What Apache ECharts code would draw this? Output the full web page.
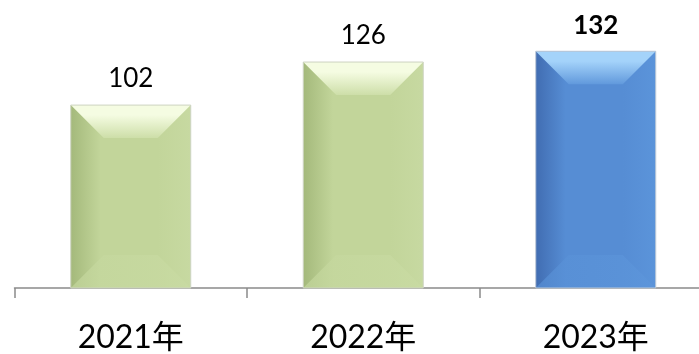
<!DOCTYPE html>
<html>
<head>
<meta charset="utf-8">
<script src="https://cdn.jsdelivr.net/npm/echarts@6/dist/echarts.min.js"></script>
<style>
html,body{margin:0;padding:0;background:#fff;}
#c{width:699px;height:354px;}
</style>
</head>
<body>
<div id="c"></div>
<script>
const categories = ['2021年', '2022年', '2023年'];
const values = [102, 126, 132];
const highlightIndex = 2;

const palettes = {
  green: {
    edgeL: '#a4b97b', mid: '#c2d59a', edgeR: '#c7d9a1',
    topA: '#f5fce2', topB: '#cddea8',
    botA: '#c4d79d', botB: '#c9dba3',
    border: '#cdd3c2'
  },
  blue: {
    edgeL: '#416db2', mid: '#568dd4', edgeR: '#5b94da',
    topA: '#a4d3fa', topB: '#6199dc',
    botA: '#5890d6', botB: '#5d96db',
    border: '#bcc8d6'
  }
};

const FONT = "Lato, 'Noto Sans CJK SC', sans-serif";

function renderItem(params, api) {
  const idx = api.value(0);
  const val = api.value(1);
  const top = api.coord([idx, val]);
  const base = api.coord([idx, 0]);
  const bw = api.size([1, 0])[0] * 0.516;
  const x0 = top[0] - bw / 2, x1 = top[0] + bw / 2;
  const y0 = top[1], yb = base[1];
  const b = 33;
  const f = b / bw;
  const p = idx === highlightIndex ? palettes.blue : palettes.green;
  const bodyGrad = new echarts.graphic.LinearGradient(0, 0, 1, 0, [
    {offset: 0, color: p.edgeL},
    {offset: f * 0.9, color: p.mid},
    {offset: 1 - f, color: p.mid},
    {offset: 1, color: p.edgeR}
  ]);
  const topGrad = new echarts.graphic.LinearGradient(0, 0, 0, 1, [
    {offset: 0, color: p.topA},
    {offset: 0.3, color: p.topA},
    {offset: 1, color: p.topB}
  ]);
  const botGrad = new echarts.graphic.LinearGradient(0, 0, 1, 0, [
    {offset: 0, color: p.botA}, {offset: 1, color: p.botB}
  ]);
  const children = [
    {type: 'rect', shape: {x: x0, y: y0, width: bw, height: yb - y0},
     style: {fill: bodyGrad}},
    {type: 'polygon', shape: {points: [[x0, yb], [x1, yb], [x1 - b, yb - b], [x0 + b, yb - b]]},
     style: {fill: botGrad, opacity: 0.7}},
    {type: 'polygon', shape: {points: [[x0, y0], [x1, y0], [x1 - b, y0 + b], [x0 + b, y0 + b]]},
     style: {fill: topGrad}},
    {type: 'rect', shape: {x: x0, y: y0, width: bw, height: yb - y0},
     style: {fill: 'none', stroke: p.border, lineWidth: 1}},
    {type: 'text', x: top[0], y: y0 - 26,
     style: {text: String(values[idx]), fill: '#000', font: (idx === highlightIndex ? 'bold ' : '') + '26px ' + FONT,
             align: 'center', verticalAlign: 'middle'}}
  ];
  return {type: 'group', children: children};
}

const chart = echarts.init(document.getElementById('c'));
chart.setOption({
  animation: false,
  backgroundColor: '#fff',
  grid: {left: 14.5, right: -13, top: 19, bottom: 66, outerBoundsMode: 'none', containLabel: false},
  xAxis: {
    type: 'category',
    data: categories,
    axisLine: {lineStyle: {color: '#8a8a8a', width: 1.5}},
    axisTick: {show: true, length: 10, lineStyle: {color: '#8a8a8a', width: 1.5}},
    axisLabel: {fontSize: 32, color: '#000', fontFamily: FONT, margin: 34}
  },
  yAxis: {type: 'value', min: 0, max: 150, show: false, splitLine: {show: false}},
  series: [{
    type: 'custom',
    renderItem: renderItem,
    data: values.map((v, i) => [i, v]),
    clip: false
  }]
});
</script>
</body>
</html>
